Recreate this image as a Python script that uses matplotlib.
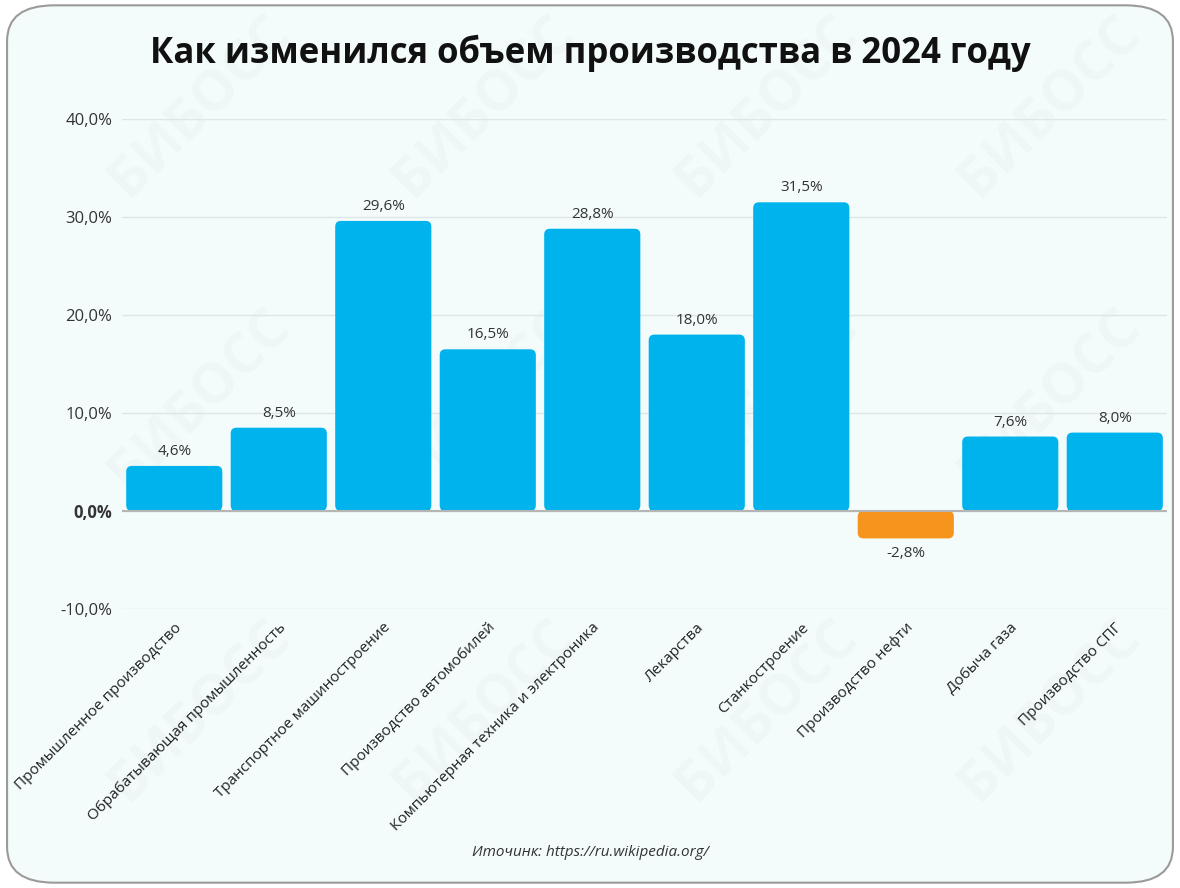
import matplotlib
matplotlib.use('Agg')
from matplotlib import pyplot as plt
from matplotlib.patches import FancyBboxPatch

# data
categories = ['Промышленное производство', 'Обрабатывающая промышленность',
              'Транспортное машиностроение', 'Производство автомобилей',
              'Компьютерная техника и электроника', 'Лекарства', 'Станкостроение',
              'Производство нефти', 'Добыча газа', 'Производство СПГ']
values = [4.6, 8.5, 29.6, 16.5, 28.8, 18.0, 31.5, -2.8, 7.6, 8.0]
yticks = [-10, 0, 10, 20, 30, 40]

plt.rcParams['font.family'] = ['Open Sans', 'DejaVu Sans']

bg = '#f3fcfb'
blue = '#00b3ec'
orange = '#f7941d'

fig = plt.figure(figsize=(11.8, 8.88), dpi=100)
fig.patch.set_facecolor('white')
frame = FancyBboxPatch((0.006, 0.006), 0.988, 0.988, boxstyle='round,pad=0,rounding_size=0.04',
                       transform=fig.transFigure, facecolor=bg, edgecolor='#9a9a9a',
                       linewidth=1.5, zorder=-5)
fig.patches.append(frame)

ax = fig.add_axes([0.1034, 0.3142, 0.8856, 0.5518])
ax.set_facecolor('none')

# faint watermark
for wx in [0.17, 0.41, 0.65, 0.89]:
    for wy in [0.88, 0.55, 0.2]:
        fig.text(wx, wy, 'БИБОСС', rotation=45, fontsize=40, color='#b0b8b8', alpha=0.07,
                 ha='center', va='center', fontweight='bold', zorder=-1)

ax.set_xlim(-0.5, len(values) - 0.5)
ax.set_ylim(-10, 40)

x = list(range(len(values)))
colors = [blue if v >= 0 else orange for v in values]
bars = ax.bar(x, values, width=0.92, color=colors, zorder=3)

# round the outer corners: rounded patch over the full bar,
# slightly narrower square rect over the half next to zero (squares the base corners)
asp = (50 / 490) * 104.5
for b, c in zip(bars, colors):
    x0, w, h = b.get_x(), b.get_width(), b.get_height()
    ax.add_patch(FancyBboxPatch((x0, min(0, h)), w, abs(h),
                                boxstyle='round,pad=0,rounding_size=0.055',
                                mutation_aspect=asp, facecolor=c, edgecolor='none', zorder=3))
    b.set_height(h / 2)
    b.set_x(x0 + 0.015)
    b.set_width(w - 0.03)
    b.set_zorder(3.1)

for xi, v in zip(x, values):
    lbl = f'{v:.1f}%'.replace('.', ',')
    if v >= 0:
        ax.text(xi, v + 0.7, lbl, ha='center', va='bottom', fontsize=11, color='#333333')
    else:
        ax.text(xi, v - 0.8, lbl, ha='center', va='top', fontsize=11, color='#333333')

ax.set_yticks(yticks)
ax.set_yticklabels([f'{t:.1f}%'.replace('.', ',') for t in yticks], fontsize=12, color='#333333')
ax.get_yticklabels()[1].set_fontweight('bold')
ax.set_xticks(x)
ax.set_xticklabels(categories, rotation=45, ha='right', rotation_mode='anchor',
                   fontsize=11, color='#222222')
ax.tick_params(axis='both', length=0)
ax.tick_params(axis='x', pad=8)
ax.tick_params(axis='y', pad=7)
ax.grid(axis='y', color='#dde5e5', linewidth=1, zorder=0)
ax.axhline(0, color='#b5b5b5', linewidth=1.5, zorder=4)
for s in ax.spines.values():
    s.set_visible(False)

fig.text(0.5, 0.94, 'Как изменился объем производства в 2024 году', ha='center', va='center',
         fontsize=25, fontweight='bold', color='#111111')
fig.text(0.5, 0.04, 'Иточинк: https://ru.wikipedia.org/', ha='center', va='center',
         fontsize=11, style='italic', color='#333333')

fig.savefig('out.png', dpi=100, facecolor=fig.get_facecolor())
